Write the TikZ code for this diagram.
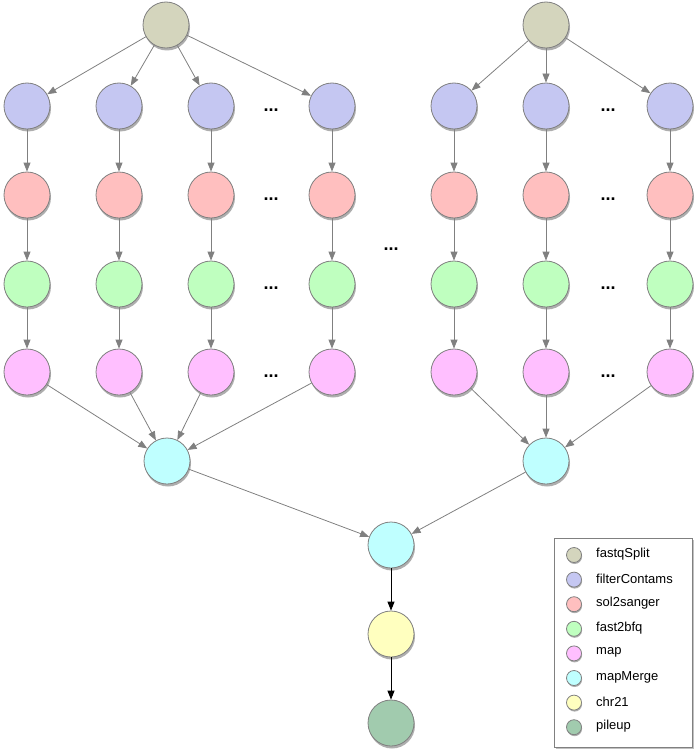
\documentclass[tikz,border=0pt]{standalone}
\usepackage{fontspec}
\setmainfont{Liberation Sans}
\usetikzlibrary{shadows,arrows.meta}
\definecolor{cSplit}{HTML}{D4D5BD}
\definecolor{cFilter}{HTML}{C5C7F2}
\definecolor{cSol}{HTML}{FFBFBF}
\definecolor{cBfq}{HTML}{BFFFBF}
\definecolor{cMap}{HTML}{FFBFFF}
\definecolor{cMerge}{HTML}{BFFFFF}
\definecolor{cChr}{HTML}{FFFFBF}
\definecolor{cPile}{HTML}{A1CBAE}
\definecolor{edgegray}{HTML}{808080}
\tikzset{
  job/.style={circle, draw=edgegray, line width=0.8pt, minimum size=46pt, inner sep=0pt,
    drop shadow={shadow xshift=1pt, shadow yshift=-2.5pt, opacity=0.45, fill=black!70}},
  keydot/.style={circle, draw=edgegray, line width=0.8pt, minimum size=15pt, inner sep=0pt,
    drop shadow={shadow xshift=0.6pt, shadow yshift=-1.5pt, opacity=0.45, fill=black!70}},
  flow/.style={draw=edgegray, line width=0.8pt, -{Triangle[length=9pt,width=7pt]}},
  mainflow/.style={draw=black, line width=0.9pt, -{Triangle[length=9pt,width=7pt]}},
  ellip/.style={font=\bfseries\fontsize{18}{18}\selectfont, inner sep=0pt},
  keytext/.style={anchor=west, font=\fontsize{13}{15}\selectfont, inner sep=0pt},
}
\begin{document}
\begin{tikzpicture}[x=1pt,y=-1pt]
\useasboundingbox (0,0) rectangle (697,752);
% left split group
\node[job, fill=cSplit] (sA) at (166,25) {};
\foreach \c/\x in {1/27,2/119,3/211,4/332}{
  \node[job, fill=cFilter] (fA\c) at (\x,106) {};
  \node[job, fill=cSol]    (lA\c) at (\x,195) {};
  \node[job, fill=cBfq]    (bA\c) at (\x,284) {};
  \node[job, fill=cMap]    (mA\c) at (\x,372) {};
  \draw[flow] (sA) -- (fA\c);
  \draw[flow] (fA\c) -- (lA\c);
  \draw[flow] (lA\c) -- (bA\c);
  \draw[flow] (bA\c) -- (mA\c);
}
\node[job, fill=cMerge] (gA) at (167,461) {};
\foreach \c in {1,...,4}{\draw[flow] (mA\c) -- (gA);}
% right split group
\node[job, fill=cSplit] (sB) at (546,25) {};
\foreach \c/\x in {1/454,2/546,3/670}{
  \node[job, fill=cFilter] (fB\c) at (\x,106) {};
  \node[job, fill=cSol]    (lB\c) at (\x,195) {};
  \node[job, fill=cBfq]    (bB\c) at (\x,284) {};
  \node[job, fill=cMap]    (mB\c) at (\x,372) {};
  \draw[flow] (sB) -- (fB\c);
  \draw[flow] (fB\c) -- (lB\c);
  \draw[flow] (lB\c) -- (bB\c);
  \draw[flow] (bB\c) -- (mB\c);
}
\node[job, fill=cMerge] (gB) at (546,461) {};
\foreach \c in {1,...,3}{\draw[flow] (mB\c) -- (gB);}
% ellipses between columns (baseline placed just below the row centre)
\foreach \y [count=\i] in {106,195,284,372}{
  \node[ellip, anchor=base] (eA\i) at (271,\y+5) {...};
  \node[ellip, anchor=base] (eB\i) at (608,\y+5) {...};
}
\node[ellip, anchor=base] (eMid) at (391,250) {...};
% final merge and downstream
\node[job, fill=cMerge] (gM) at (391,545) {};
\node[job, fill=cChr]   (chr) at (391,634) {};
\node[job, fill=cPile]  (pile) at (391,723) {};
\draw[flow] (gA) -- (gM);
\draw[flow] (gB) -- (gM);
\draw[mainflow] (gM) -- (chr);
\draw[mainflow] (chr) -- (pile);
% legend
\node[draw=edgegray, fill=white, line width=0.8pt, minimum width=138pt, minimum height=209pt,
  drop shadow={shadow xshift=1pt, shadow yshift=-2pt, opacity=0.35, fill=black!70}]
  (legend) at (623.5,642.5) {};
\foreach \col/\lab [count=\i] in {cSplit/fastqSplit, cFilter/filterContams, cSol/sol2sanger,
    cBfq/fast2bfq, cMap/map, cMerge/mapMerge, cChr/chr21, cPile/pileup}{
  \node[keydot, fill=\col] (k\i) at (574,{555+24.6*(\i-1)}) {};
  \node[keytext] (t\i) at (596,{554+24.6*(\i-1)}) {\lab};
}
\end{tikzpicture}
\end{document}
